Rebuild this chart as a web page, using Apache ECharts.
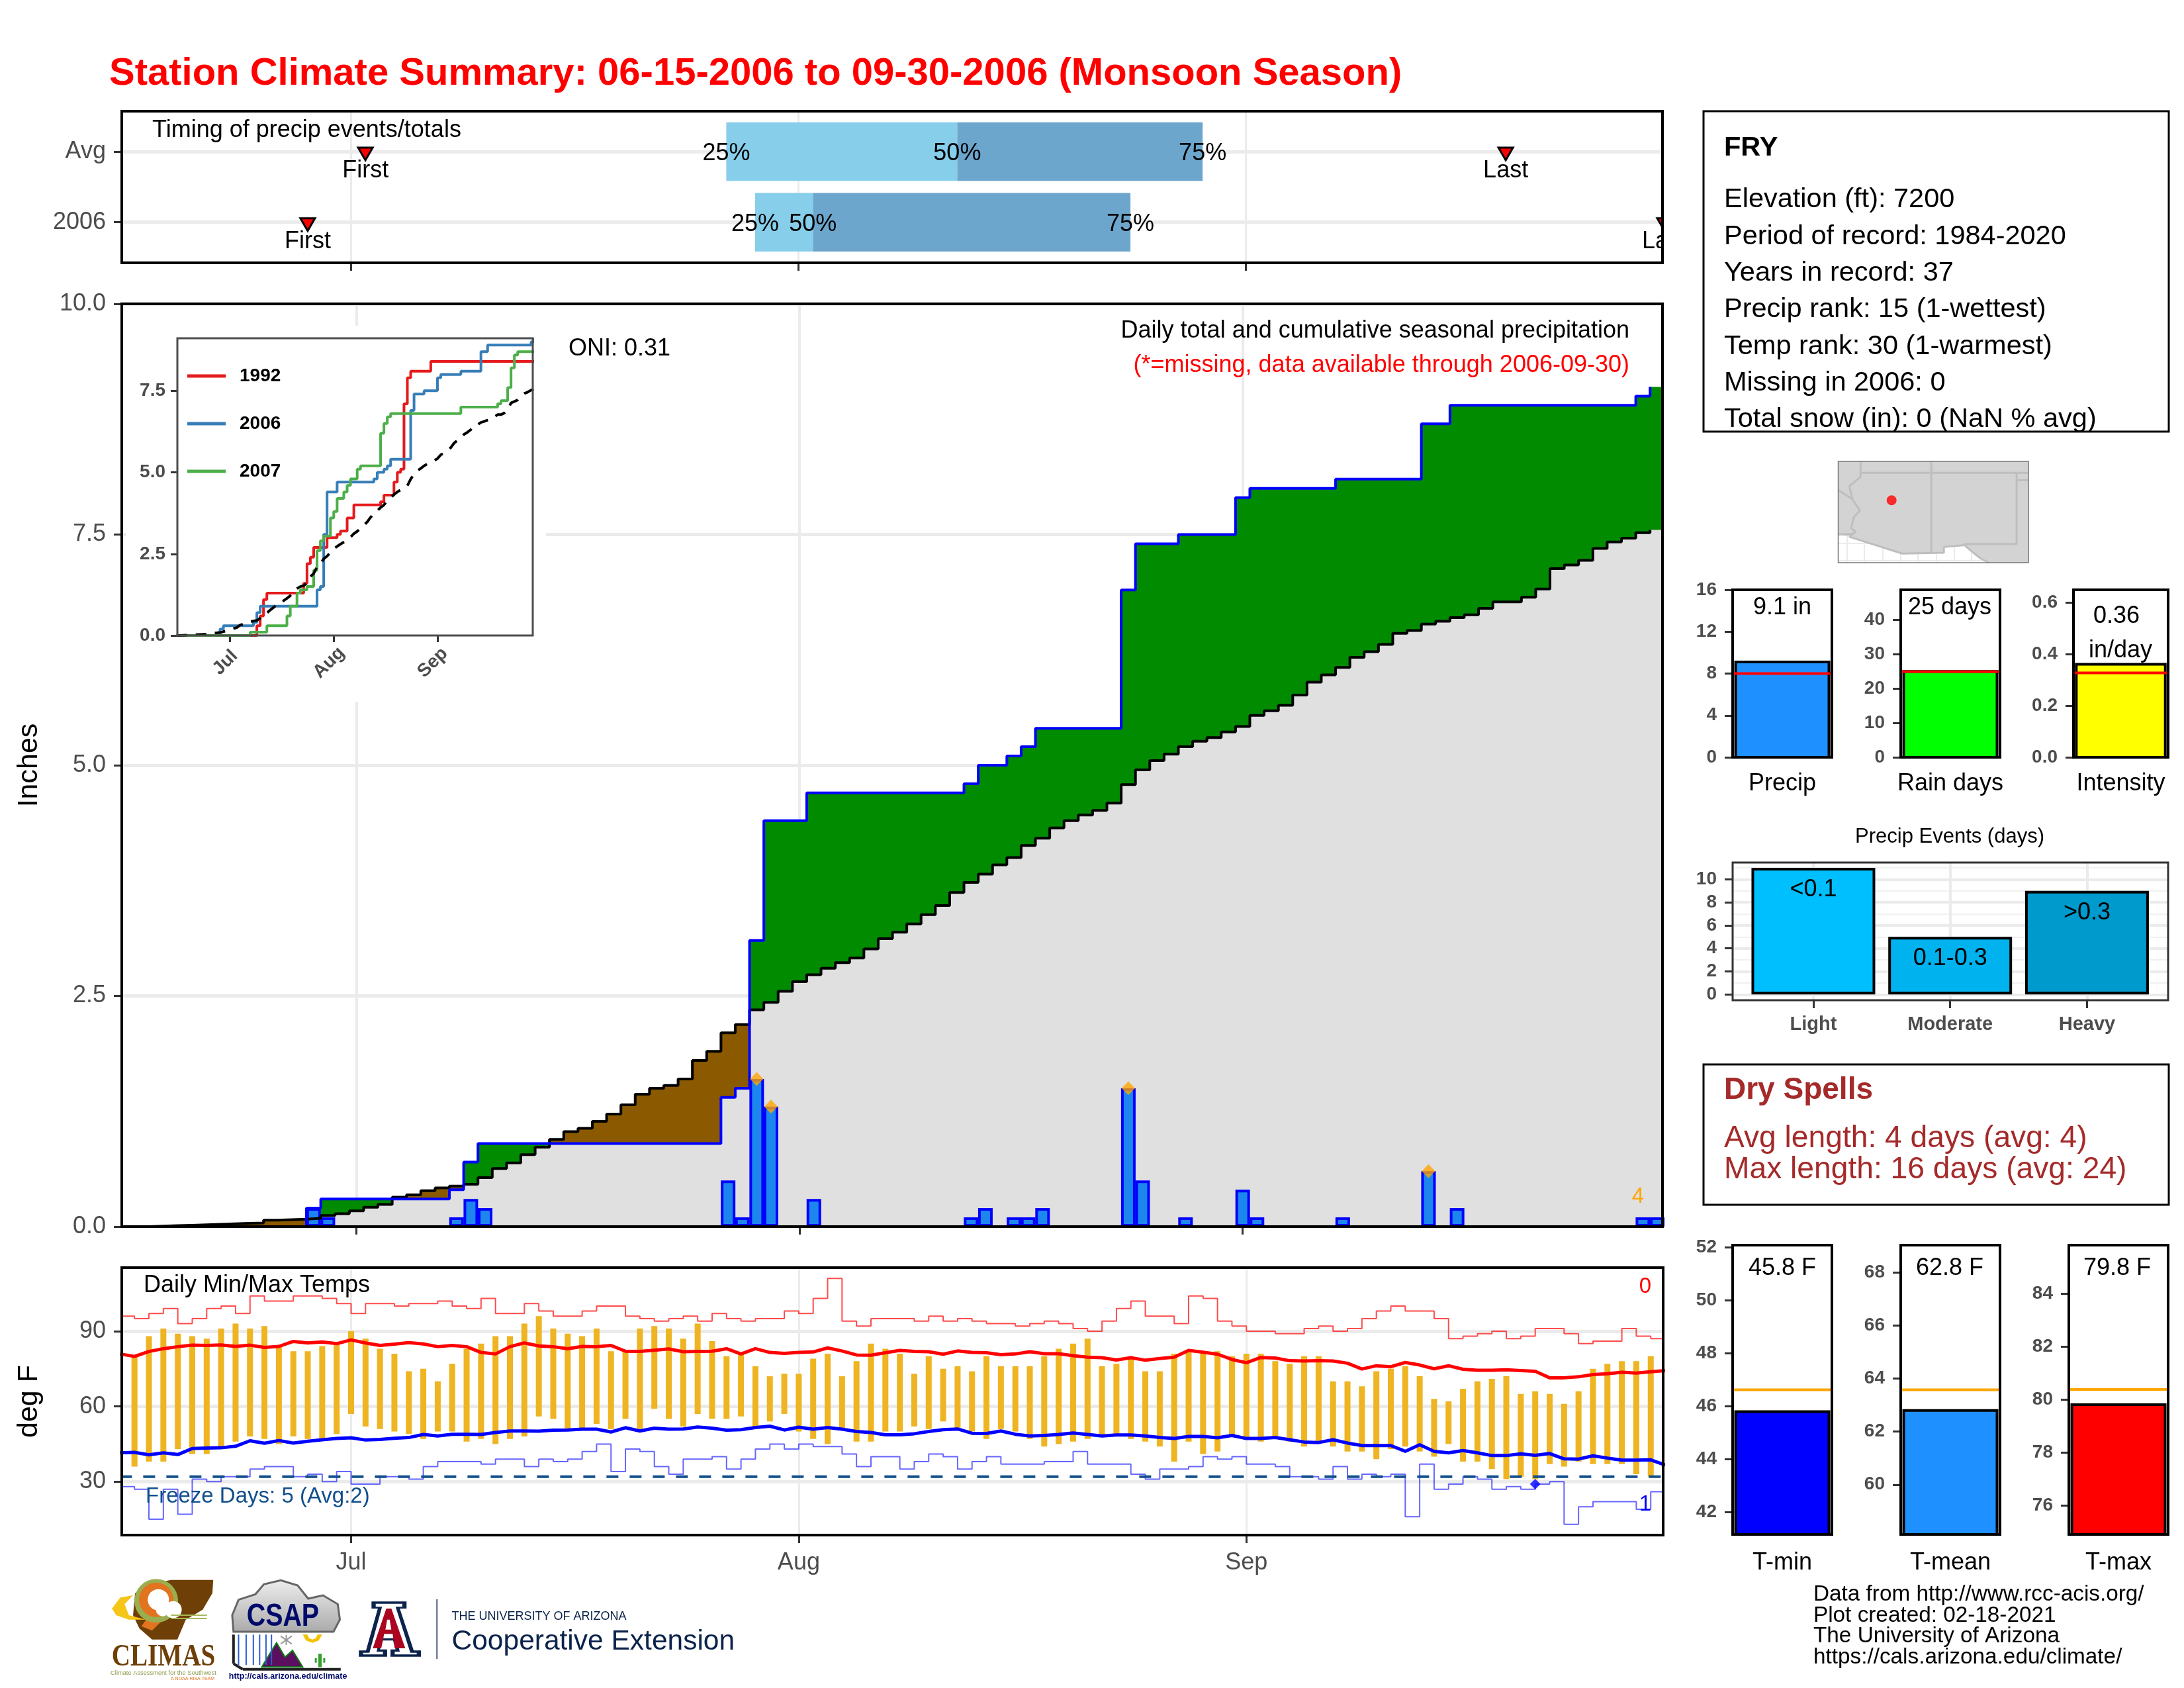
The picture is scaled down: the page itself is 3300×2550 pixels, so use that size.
<!DOCTYPE html>
<html>
<head>
<meta charset="utf-8">
<title>Station Climate Summary</title>
<script src="https://cdn.jsdelivr.net/npm/echarts@6/dist/echarts.min.js"></script>
<style>html,body{margin:0;padding:0;background:#fff}</style>
</head>
<body>
<div id="chart" style="width:3300px;height:2550px"></div>
<script>
// day numbers: 0 = 06-15, 16 = Jul 1, 47 = Aug 1, 78 = Sep 1, 107 = 09-30
var monthDays = [16, 47, 78];
var monthNames = ['Jul', 'Aug', 'Sep'];

// timing strip: first, 25%, 50%, 75%, last
var timingAvg = [17, 42, 58, 75, 96];
var timing2006 = [13, 44, 48, 70, 107];

// daily rain 2006
var rainDays = [13, 14, 23, 24, 25, 42, 43, 44, 45, 48, 59, 60, 62, 63, 64, 70, 71, 74, 78, 79, 85, 91, 93, 106, 107];
var rainAmounts = [0.2, 0.1, 0.1, 0.3, 0.2, 0.5, 0.1, 1.6, 1.3, 0.3, 0.1, 0.2, 0.1, 0.1, 0.2, 1.5, 0.5, 0.1, 0.4, 0.1, 0.1, 0.6, 0.2, 0.1, 0.1];
var recordDays = [44, 45, 70, 91];

// long term cumulative average, one per day
var avgPrecip = [0, 0, 0.005, 0.01, 0.015, 0.02, 0.025, 0.03, 0.035, 0.04, 0.07, 0.075, 0.08, 0.09,
	0.12, 0.14, 0.17, 0.21, 0.24, 0.32, 0.345, 0.39, 0.42, 0.44, 0.46, 0.53, 0.63, 0.69, 0.78, 0.86,
	0.945, 1.03, 1.065, 1.14, 1.22, 1.32, 1.435, 1.50, 1.53, 1.60, 1.80, 1.90, 2.10, 2.19, 2.35, 2.43,
	2.55, 2.655, 2.73, 2.80, 2.86, 2.91, 3.01, 3.12, 3.19, 3.28, 3.38, 3.48, 3.62, 3.73, 3.82, 3.92,
	4.00, 4.13, 4.21, 4.32, 4.40, 4.46, 4.51, 4.59, 4.79, 4.95, 5.05, 5.12, 5.20, 5.26, 5.30, 5.36,
	5.42, 5.54, 5.59, 5.65, 5.76, 5.90, 5.98, 6.06, 6.17, 6.23, 6.31, 6.43, 6.46, 6.53, 6.56, 6.60,
	6.63, 6.70, 6.77, 6.77, 6.82, 6.91, 7.13, 7.17, 7.22, 7.35, 7.42, 7.46, 7.52, 7.55];

// inset: cumulative totals of other years at the days they changed
var days1992 = [24, 25, 26, 27, 38, 39, 40, 41, 45, 48, 49, 51, 53, 61, 62, 65, 66, 67, 68, 69, 70, 76];
var totals1992 = [0.3, 0.6, 1.1, 1.3, 1.6, 2.2, 2.4, 2.7, 3.0, 3.1, 3.2, 3.6, 4.0, 4.1, 4.3, 4.7, 5.0, 5.1, 7.1, 7.9, 8.1, 8.4];
var days2007 = [22, 27, 33, 34, 36, 37, 39, 41, 42, 43, 44, 46, 47, 48, 50, 51, 52, 54, 55, 61, 62, 63, 64, 85, 96, 97, 99, 100, 101, 102];
var totals2007 = [0.1, 0.3, 0.6, 0.9, 1.3, 1.4, 1.5, 2.0, 2.6, 2.9, 3.05, 3.6, 3.8, 4.2, 4.4, 4.6, 4.8, 5.1, 5.2, 6.2, 6.5, 6.7, 6.8, 7.0, 7.1, 7.2, 7.6, 8.2, 8.6, 8.7];
var legendYears = ['1992', '2006', '2007'];

// daily temps, day 1 to 106
var tMax = [80, 88, 91, 89, 88, 87, 91, 93, 91, 92,
	84, 82, 82, 84, 85, 90, 87, 83, 81, 74,
	75, 70, 77, 83, 85, 88, 88, 93, 96, 91,
	89, 88, 91, 82, 82, 91, 92, 91, 87, 93,
	86, 80, 81, 76, 72, 73, 73, 79, 81, 72,
	78, 85, 83, 81, 73, 80, 75, 76, 74, 80,
	76, 76, 76, 80, 83, 85, 87, 76, 77, 79,
	74, 74, 81, 82, 81, 82, 80, 81, 81, 78,
	77, 80, 80, 70, 70, 68, 74, 75, 76, 72,
	63, 62, 67, 70, 71, 72, 65, 66, 65, 61,
	66, 75, 77, 78, 78, 80];
var tMin = [36, 38, 38, 43, 41, 41, 44, 46, 48, 47,
	45, 48, 47, 47, 49, 57, 52, 51, 50, 49,
	47, 50, 50, 46, 47, 45, 47, 48, 56, 55,
	51, 51, 53, 51, 55, 51, 59, 55, 52, 57,
	55, 55, 56, 52, 54, 57, 50, 47, 45, 51,
	46, 46, 50, 50, 52, 51, 54, 51, 50, 47,
	51, 50, 47, 44, 45, 46, 47, 48, 48, 47,
	46, 44, 38, 46, 41, 42, 48, 47, 46, 47,
	46, 44, 46, 44, 42, 42, 39, 43, 44, 42,
	40, 45, 38, 38, 35, 31, 32, 31, 37, 36,
	38, 37, 37, 37, 33, 32];

// record high / low thin steps, day 0 to 106
var recHigh = [96, 95, 97, 99, 93, 95, 99, 100, 97, 104,
	102, 102, 104, 104, 103, 101, 97, 101, 101, 100,
	101, 101, 102, 100, 99, 103, 97, 97, 101, 98,
	96, 96, 98, 100, 100, 96, 95, 94, 95, 96,
	94, 97, 95, 94, 95, 95, 98, 97, 103, 111,
	94, 92, 95, 95, 95, 94, 96, 94, 95, 94,
	93, 93, 92, 93, 94, 93, 91, 90, 94, 99,
	102, 96, 96, 93, 104, 103, 94, 92, 90, 90,
	89, 89, 91, 92, 90, 91, 95, 98, 100, 98,
	98, 95, 87, 88, 89, 90, 87, 88, 91, 91,
	89, 85, 86, 86, 91, 88, 87];
var recLow = [28, 27, 15, 27, 17, 31, 30, 32, 32, 35,
	36, 36, 32, 33, 30, 34, 29, 29, 32, 32,
	31, 36, 38, 38, 38, 37, 39, 39, 36, 39,
	38, 39, 42, 45, 34, 43, 42, 36, 33, 39,
	39, 40, 35, 39, 43, 45, 43, 45, 44, 44,
	41, 36, 40, 40, 35, 38, 41, 40, 35, 38,
	40, 37, 37, 37, 38, 38, 42, 37, 37, 37,
	33, 31, 35, 35, 36, 40, 39, 40, 37, 37,
	36, 32, 32, 31, 36, 31, 33, 32, 33, 16,
	37, 27, 29, 32, 31, 27, 28, 27, 29, 30,
	13, 20, 22, 22, 22, 19, 26];

// long term mean max / min, day 0 to 107
var avgHigh = [80.9, 79.9, 81.9, 83.0, 83.8, 84.4, 84.3, 84.5, 83.9, 84.4,
	83.5, 83.9, 85.9, 85.3, 85.7, 85.0, 86.5, 85.3, 84.3, 84.8,
	85.4, 84.9, 83.8, 84.3, 83.8, 81.5, 80.9, 83.8, 85.3, 84.1,
	83.8, 83.0, 83.9, 83.8, 84.3, 82.0, 81.9, 82.4, 82.9, 81.8,
	81.9, 82.0, 83.0, 80.9, 83.0, 81.5, 81.1, 81.5, 81.7, 83.3,
	82.1, 80.5, 80.4, 81.4, 82.3, 81.9, 81.8, 80.8, 82.1, 81.5,
	81.4, 80.6, 80.9, 81.8, 81.0, 81.0, 80.2, 79.6, 79.4, 78.5,
	79.4, 78.4, 79.1, 79.6, 82.3, 81.6, 80.8, 78.7, 77.4, 79.5,
	79.3, 78.2, 78.1, 78.2, 78.1, 77.2, 74.9, 76.2, 75.8, 77.5,
	76.5, 75.0, 76.2, 74.8, 74.4, 74.4, 74.6, 74.3, 74.0, 71.4,
	71.4, 71.8, 72.7, 73.0, 73.6, 73.3, 73.8, 74.3];
var avgLow = [41.5, 41.7, 40.7, 41.5, 40.8, 43.2, 43.4, 43.5, 44.1, 46.3,
	45.3, 46.4, 45.4, 46.1, 46.7, 47.2, 47.5, 46.6, 46.8, 47.3,
	47.6, 48.8, 48.2, 48.9, 48.9, 48.8, 49.6, 50.2, 50.2, 50.1,
	50.5, 50.6, 50.9, 50.9, 49.8, 51.5, 50.2, 51.3, 50.9, 51.0,
	51.8, 51.3, 50.5, 50.7, 51.6, 52.1, 50.6, 51.7, 50.9, 51.6,
	50.9, 50.0, 49.6, 48.7, 48.7, 49.1, 50.0, 50.7, 51.0, 49.3,
	49.2, 50.2, 48.9, 48.2, 48.4, 48.8, 49.4, 48.8, 48.2, 48.6,
	48.6, 48.2, 47.6, 47.2, 48.0, 48.0, 47.5, 48.4, 47.2, 47.2,
	47.6, 46.7, 45.8, 45.6, 46.7, 45.4, 44.4, 44.4, 44.4, 42.1,
	44.7, 42.1, 41.5, 42.4, 41.5, 40.4, 40.4, 41.1, 40.5, 41.2,
	39.1, 39.0, 40.3, 39.4, 38.6, 38.6, 38.7, 36.6];
var freezeLine = 32;
var recordLowDays = [98];
var recordLowTemps = [29];

// precip events bars
var eventNames = ['Light', 'Moderate', 'Heavy'];
var eventValues = [11, 5, 9];
var eventLabels = ['<0.1', '0.1-0.3', '>0.3'];
var eventFills = ['#00BFFF', '#00B2EE', '#009ACD'];

// locator map, lon/lat
var stationLon = -111.87;
var stationLat = 35.07;
var mapLand = [[-115.66, 37.8], [-102.16, 37.8], [-102.16, 30.69], [-104.98, 30.69], [-105.55, 30.98], [-106.23, 31.52],
	[-106.69, 31.92], [-108.16, 31.79], [-108.16, 31.39], [-111.12, 31.33], [-114.87, 32.51], [-115.66, 32.67]];
var mapBorders = [
	[[-114.07, 37.8], [-114.07, 36.73], [-114.87, 36.06], [-114.64, 35.13], [-114.12, 34.33], [-114.53, 33.93], [-114.75, 33.12], [-114.41, 32.86], [-114.87, 32.51]],
	[[-115.66, 35.8], [-114.64, 35.13]],
	[[-115.66, 32.67], [-114.53, 32.72]],
	[[-114.07, 37], [-102.16, 37]],
	[[-109.05, 37.8], [-109.05, 31.33]],
	[[-103, 37], [-103, 32], [-106.69, 32]],
	[[-103, 36.47], [-102.16, 36.47]],
	[[-114.87, 32.51], [-111.12, 31.33], [-108.16, 31.39], [-108.16, 31.79], [-106.69, 31.92], [-106.23, 31.52], [-105.55, 30.98], [-104.98, 30.69]]
];

var infoLines = ['Elevation (ft): 7200', 'Period of record: 1984-2020', 'Years in record: 37', 'Precip rank: 15 (1-wettest)',
	'Temp rank: 30 (1-warmest)', 'Missing in 2006: 0', 'Total snow (in): 0 (NaN % avg)'];
var creditLines = ['Data from http://www.rcc-acis.org/', 'Plot created: 02-18-2021', 'The University of Arizona', 'https://cals.arizona.edu/climate/'];

var FONT = '"Liberation Sans"';
var GRID = '#ebebeb';
var TICKC = '#333333';
var LABELC = '#4d4d4d';

var grids = [], xAxes = [], yAxes = [], series = [], graphics = [];

function text(x, y, str, size, color, opt) {
	opt = opt || {};
	graphics.push({
		type: 'text', z: 60, silent: true, x: x, y: y + 3, scaleX: opt.sx || 1,
		style: {
			x: 0, y: 0, text: str, fill: color || '#000',
			fontFamily: opt.family || FONT, fontSize: size, fontWeight: opt.weight || 'normal',
			align: opt.align || 'left', verticalAlign: 'middle'
		}
	});
}

function frame(b, color, width) {
	graphics.push({
		type: 'rect', z: 50, silent: true,
		shape: { x: b[0], y: b[1], width: b[2] - b[0], height: b[3] - b[1] },
		style: { fill: 'none', stroke: color || '#000', lineWidth: width || 4 }
	});
}

// one value axis; ticks sets ticks, labels and grid lines
function axis(gridIndex, kind, o) {
	var ax = {
		type: 'value', gridIndex: gridIndex, min: o.min, max: o.max, z: o.z || 0,
		axisLine: { show: false, onZero: false },
		axisTick: { show: !!o.tick, customValues: o.ticks, length: o.tickLen || 12, lineStyle: { color: TICKC, width: 3 } },
		axisLabel: {
			show: !!o.format, customValues: o.ticks, formatter: o.format, margin: o.margin || (kind === 'y' ? 24 : 8),
			color: o.labelColor || LABELC, fontFamily: FONT, fontSize: o.fontSize || 36, fontWeight: o.weight || 'normal',
			hideOverlap: false, showMinLabel: true, showMaxLabel: true,
			padding: kind === 'y' ? [10, 0, 0, 0] : 0
		},
		splitLine: { show: !!o.gridWidth, lineStyle: { color: o.gridColor || GRID, width: o.gridWidth || 0 } }
	};
	if (o.rotate) {
		ax.axisLabel.rotate = o.rotate;
		ax.axisLabel.align = 'center';
		ax.axisLabel.verticalAlign = 'middle';
		ax.axisLabel.padding = [0, 20, 0, 0];
	}
	if (o.name) {
		ax.name = o.name;
		ax.nameLocation = 'middle';
		ax.nameGap = o.nameGap;
		ax.nameTextStyle = { color: '#000', fontFamily: FONT, fontSize: 43 };
	}
	(kind === 'x' ? xAxes : yAxes).push(ax);
	return (kind === 'x' ? xAxes : yAxes).length - 1;
}

function panel(b, xo, yo) {
	grids.push({ left: b[0], top: b[1], width: b[2] - b[0], height: b[3] - b[1] });
	var g = grids.length - 1;
	return { x: axis(g, 'x', xo), y: axis(g, 'y', yo), grid: g };
}

function lineSeries(p, data, color, width, extra) {
	var s = {
		type: 'line', xAxisIndex: p.x, yAxisIndex: p.y, data: data, symbol: 'none', silent: true,
		lineStyle: { color: color, width: width }, itemStyle: { color: color }
	};
	for (var k in (extra || {})) {
		s[k] = extra[k];
	}
	series.push(s);
}

// centred step: each value spans day-0.5 to day+0.5
function midSteps(vals, dropLast) {
	var pts = [];
	for (var i = 0; i < vals.length; i++) {
		pts.push([i - 0.5, vals[i]]);
		if (!(dropLast && i === vals.length - 1)) {
			pts.push([i + 0.5, vals[i]]);
		}
	}
	return pts;
}

// forward step: each value spans day to day+1
function fwdSteps(vals) {
	var pts = [];
	for (var i = 0; i < vals.length; i++) {
		pts.push([i, vals[i]]);
		pts.push([i + 1, vals[i]]);
	}
	return pts;
}

function dailyTotals(days, totals) {
	var out = [], cur = 0, j = 0;
	for (var d = 0; d < avgPrecip.length; d++) {
		if (j < days.length && days[j] === d) {
			cur = totals[j];
			j++;
		}
		out.push(cur);
	}
	return out;
}

function monthLabel(v) {
	return monthNames[monthDays.indexOf(v)];
}

// ---- running totals for 2006
var cum2006 = [], runTotal = 0;
for (var d = 0; d < avgPrecip.length; d++) {
	var at = rainDays.indexOf(d);
	if (at >= 0) {
		runTotal = Math.round((runTotal + rainAmounts[at]) * 10) / 10;
	}
	cum2006.push(runTotal);
}
var lowerEdge = cum2006.map(function (v, i) { return Math.min(v, avgPrecip[i]); });

// ---- timing strip
var TBOX = [184, 168, 2512, 397];
var timing = panel(TBOX,
	{ min: 0.12, max: 106.86, ticks: monthDays, tick: true, gridWidth: 3 },
	{ min: 0.4255, max: 2.572, ticks: [1, 2], tick: true, gridWidth: 5, format: function (v) { return v === 2 ? 'Avg' : '2006'; } });
series.push({
	type: 'custom', xAxisIndex: timing.x, yAxisIndex: timing.y, clip: true, silent: true,
	encode: { x: [1, 2, 3, 4, 5], y: 0 },
	data: [[2].concat(timingAvg), [1].concat(timing2006)],
	renderItem: function (params, api) {
		var row = api.value(0);
		function pt(v, dy) { return api.coord([v, row + (dy || 0)]); }
		function tx(v, str, offY) {
			var p = pt(v);
			return {
				type: 'text',
				style: { x: p[0], y: p[1] + offY + 3, text: str, fill: '#000', fontFamily: FONT, fontSize: 36, align: 'center', verticalAlign: 'middle' }
			};
		}
		function box(a, b, fill) {
			var p0 = pt(a, 0.415), p1 = pt(b, -0.415);
			return { type: 'rect', shape: { x: p0[0], y: p0[1], width: p1[0] - p0[0], height: p1[1] - p0[1] }, style: { fill: fill } };
		}
		function mark(v) {
			var p = pt(v);
			return {
				type: 'polygon',
				shape: { points: [[p[0] - 11, p[1] - 6], [p[0] + 11, p[1] - 6], [p[0], p[1] + 13]] },
				style: { fill: '#ff0000', stroke: '#000', lineWidth: 3 }
			};
		}
		return {
			type: 'group',
			children: [
				box(api.value(2), api.value(3), '#87CEEB'),
				box(api.value(3), api.value(4), '#6CA6CD'),
				tx(api.value(2), '25%', 0), tx(api.value(3), '50%', 0), tx(api.value(4), '75%', 0),
				mark(api.value(1)), mark(api.value(5)),
				tx(api.value(1), 'First', 26), tx(api.value(5), 'Last', 26)
			]
		};
	}
});
frame(TBOX);
text(230, 194, 'Timing of precip events/totals', 36);

// ---- main precip panel
var MBOX = [184, 459, 2512, 1853];
var main = panel(MBOX,
	{ min: -0.42, max: 107.37, ticks: monthDays, tick: true, gridWidth: 4 },
	{ min: 0, max: 10, ticks: [0, 2.5, 5, 7.5, 10], tick: true, gridWidth: 5, name: 'Inches', nameGap: 118, format: function (v) { return v.toFixed(1); } });
lineSeries(main, midSteps(cum2006), '#008B00', 0, { areaStyle: { color: '#008B00', opacity: 1 } });
lineSeries(main, midSteps(avgPrecip), '#8B5A00', 0, { areaStyle: { color: '#8B5A00', opacity: 1 } });
lineSeries(main, midSteps(lowerEdge), '#E0E0E0', 0, { areaStyle: { color: '#E0E0E0', opacity: 1 } });
lineSeries(main, midSteps(avgPrecip, true), '#000000', 4);
lineSeries(main, midSteps(cum2006, true), '#0000FF', 4);
// the filled areas paint over same-z marks, so the bars sit one level up
series.push({
	type: 'bar', xAxisIndex: main.x, yAxisIndex: main.y, silent: true, barWidth: 22, z: 3,
	itemStyle: { color: '#1C86EE', borderColor: '#0000FF', borderWidth: 4 },
	data: rainDays.map(function (day, i) { return [day, rainAmounts[i]]; })
});
series.push({
	type: 'scatter', xAxisIndex: main.x, yAxisIndex: main.y, silent: true, symbol: 'diamond', symbolSize: [20, 21], z: 4,
	itemStyle: { color: '#FFA500' },
	data: recordDays.map(function (day) { return [day, rainAmounts[rainDays.indexOf(day)]]; })
});
frame(MBOX);
text(859, 524, 'ONI: 0.31', 36);
text(2462, 497, 'Daily total and cumulative seasonal precipitation', 36, '#000', { align: 'right' });
text(2462, 549, '(*=missing, data available through 2006-09-30)', 36, '#ff0000', { align: 'right' });
text(2475, 1805, '4', 33, '#FFA500', { align: 'center' });

// ---- inset: white patch hides the main grid lines behind it
graphics.push({ type: 'rect', z: 1, silent: true, shape: { x: 190, y: 492, width: 635, height: 568 }, style: { fill: '#fff' } });
var IBOX = [268, 511, 805, 960];
var inset = panel(IBOX,
	{ min: 0.24, max: 106.5, ticks: monthDays, tick: true, tickLen: 10, z: 3, format: monthLabel, fontSize: 28, weight: 'bold', rotate: 45, margin: 34 },
	{ min: 0, max: 9.11, ticks: [0, 2.5, 5, 7.5], tick: true, tickLen: 10, z: 3, format: function (v) { return v.toFixed(1); }, fontSize: 28, weight: 'bold', margin: 18 });
lineSeries(inset, fwdSteps(dailyTotals(days1992, totals1992)), '#E41A1C', 4, { name: '1992', z: 5 });
lineSeries(inset, fwdSteps(cum2006), '#377EB8', 4, { name: '2006', z: 5 });
lineSeries(inset, fwdSteps(dailyTotals(days2007, totals2007)), '#4DAF4A', 4, { name: '2007', z: 5 });
lineSeries(inset, avgPrecip.map(function (v, i) { return [i, v]; }), '#000000', 4, { z: 5, lineStyle: { color: '#000', width: 4, type: [16, 13] } });
frame(IBOX, '#4d4d4d', 3);

// ---- temperature panel
var TEMPBOX = [184, 1915, 2513, 2319];
var temp = panel(TEMPBOX,
	{ min: 0.12, max: 106.86, ticks: monthDays, tick: true, gridWidth: 3, format: monthLabel, margin: 24 },
	{ min: 8.7, max: 115.3, ticks: [30, 60, 90], tick: true, gridWidth: 5, name: 'deg F', nameGap: 118, format: function (v) { return String(v); } });
series.push({
	type: 'custom', xAxisIndex: temp.x, yAxisIndex: temp.y, silent: true, clip: true,
	encode: { x: 0, y: [1, 2] },
	data: tMax.map(function (v, i) { return [i + 1, tMin[i], v]; }),
	renderItem: function (params, api) {
		var lo = api.coord([api.value(0), api.value(1)]);
		var hi = api.coord([api.value(0), api.value(2)]);
		return { type: 'rect', shape: { x: lo[0] - 4.5, y: hi[1], width: 9, height: lo[1] - hi[1] }, style: { fill: '#EEB422' } };
	}
});
lineSeries(temp, fwdSteps(recHigh), 'rgba(255,0,0,0.7)', 2);
lineSeries(temp, fwdSteps(recLow), 'rgba(0,0,255,0.6)', 2);
lineSeries(temp, avgHigh.map(function (v, i) { return [i, v]; }), '#FF0000', 5);
lineSeries(temp, avgLow.map(function (v, i) { return [i, v]; }), '#0000FF', 5);
lineSeries(temp, [[0, freezeLine], [107, freezeLine]], '#104E8B', 4, { lineStyle: { color: '#104E8B', width: 4, type: [18, 17] } });
series.push({
	type: 'scatter', xAxisIndex: temp.x, yAxisIndex: temp.y, silent: true, symbol: 'diamond', symbolSize: 16,
	itemStyle: { color: '#0000FF' },
	data: recordLowDays.map(function (day, i) { return [day, recordLowTemps[i]]; })
});
frame(TEMPBOX);
text(217, 1939, 'Daily Min/Max Temps', 36);
text(220, 2258, 'Freeze Days: 5 (Avg:2)', 33, '#104E8B');
text(2486, 1941, '0', 33, '#ff0000', { align: 'center' });
text(2486, 2270, '1', 33, '#0000FF', { align: 'center' });

// ---- info boxes
frame([2574, 168, 3277, 652], '#000', 3);
text(2605, 221, 'FRY', 41.5, '#000', { weight: 'bold' });
infoLines.forEach(function (line, i) {
	text(2605, 299 + i * 55.3, line, 41.5);
});
frame([2574, 1608, 3277, 1820], '#000', 3);
text(2605, 1644, 'Dry Spells', 46, '#A52A2A', { weight: 'bold' });
text(2605, 1717, 'Avg length: 4 days (avg: 4)', 46.2, '#A52A2A');
text(2605, 1764, 'Max length: 16 days (avg: 24)', 46.2, '#A52A2A');

// ---- locator map
var MAPBOX = [2777.5, 697, 3065, 850];
var locator = panel(MAPBOX,
	{ min: -115.66, max: -102.16, ticks: [-115.05, -113.8, -112.5, -111.25, -110, -108.7, -107.45, -106.2], gridWidth: 2 },
	{ min: 30.69, max: 37.8, ticks: [30.85, 32.05], gridWidth: 2 });
series.push({
	type: 'custom', xAxisIndex: locator.x, yAxisIndex: locator.y, silent: true, data: [[0, 0]],
	renderItem: function (params, api) {
		return { type: 'polygon', shape: { points: mapLand.map(function (p) { return api.coord(p); }) }, style: { fill: '#D3D3D3' } };
	}
});
mapBorders.forEach(function (line) {
	lineSeries(locator, line, '#BEBEBE', 3, { clip: true });
});
series.push({
	type: 'scatter', xAxisIndex: locator.x, yAxisIndex: locator.y, silent: true, symbolSize: 15,
	itemStyle: { color: '#FF0000' }, data: [[stationLon, stationLat]]
});
frame(MAPBOX, '#777777', 1.5);

// ---- small summary bars
function summaryBar(b, name, yMin, yMax, ticks, value, ref, fill, refColor, refWidth, labelMargin) {
	var p = panel(b,
		{ min: 0, max: 1, ticks: [0.5], format: function () { return name; }, labelColor: '#000', margin: labelMargin },
		{ min: yMin, max: yMax, ticks: ticks, tick: true, format: function (v) { return yMax < 1 ? v.toFixed(1) : String(v); }, fontSize: 28, weight: 'bold', margin: 24 });
	series.push({
		type: 'custom', xAxisIndex: p.x, yAxisIndex: p.y, silent: true, data: [[value]],
		renderItem: function (params, api) {
			var a = api.coord([0.03, api.value(0)]), c = api.coord([0.97, yMin]);
			return { type: 'rect', shape: { x: a[0], y: a[1], width: c[0] - a[0], height: c[1] - a[1] }, style: { fill: fill, stroke: '#000', lineWidth: 4 } };
		}
	});
	lineSeries(p, [[0, ref], [1, ref]], refColor, refWidth);
	frame(b);
}
summaryBar([2618, 891, 2768, 1144], 'Precip', 0, 16, [0, 4, 8, 12, 16], 9.1, 8, '#1E90FF', '#FF0000', 4, 22);
summaryBar([2872, 891, 3022, 1144], 'Rain days', 0, 48.75, [0, 10, 20, 30, 40], 25, 24.9, '#00FF00', '#FF0000', 4, 22);
summaryBar([3133, 891, 3276, 1144], 'Intensity', 0, 0.6485, [0, 0.2, 0.4, 0.6], 0.36, 0.327, '#FFFF00', '#FF0000', 4, 22);
summaryBar([2618, 1881, 2768, 2318], 'T-min', 41.17, 52.07, [42, 44, 46, 48, 50, 52], 45.8, 46.62, '#0000FF', '#FFA500', 4, 25);
summaryBar([2872, 1881, 3022, 2318], 'T-mean', 58.12, 69.04, [60, 62, 64, 66, 68], 62.8, 63.58, '#1E90FF', '#FFA500', 4, 25);
summaryBar([3126, 1881, 3276, 2318], 'T-max', 74.9, 85.82, [76, 78, 80, 82, 84], 79.8, 80.37, '#FF0000', '#FFA500', 4, 25);
text(2693, 915, '9.1 in', 36, '#000', { align: 'center' });
text(2946, 915, '25 days', 36, '#000', { align: 'center' });
text(3198, 928, '0.36', 36, '#000', { align: 'center' });
text(3204, 980, 'in/day', 36, '#000', { align: 'center' });
text(2693, 1913, '45.8 F', 36, '#000', { align: 'center' });
text(2946, 1913, '62.8 F', 36, '#000', { align: 'center' });
text(3199, 1913, '79.8 F', 36, '#000', { align: 'center' });

// ---- precip events
var EBOX = [2618, 1303, 3276, 1511];
text(2946, 1261, 'Precip Events (days)', 31, '#000', { align: 'center' });
var events = panel(EBOX,
	{ min: 0.41, max: 3.593, ticks: [1, 2, 3], tick: true, gridWidth: 4, format: function (v) { return eventNames[v - 1]; }, fontSize: 29, weight: 'bold', margin: 22 },
	{ min: -0.5, max: 11.46, ticks: [0, 2, 4, 6, 8, 10], tick: true, gridWidth: 4, format: function (v) { return String(v); }, fontSize: 28, weight: 'bold', margin: 24 });
yAxes.push({
	type: 'value', gridIndex: events.grid, min: -0.5, max: 11.46,
	axisLine: { show: false, onZero: false }, axisLabel: { show: false }, axisTick: { show: false, customValues: [1, 3, 5, 7, 9, 11] },
	splitLine: { show: true, lineStyle: { color: '#f0f0f0', width: 2 } }
});
series.push({
	type: 'bar', xAxisIndex: events.x, yAxisIndex: events.y, silent: true, barWidth: 187,
	data: eventValues.map(function (v, i) {
		return {
			value: [i + 1, v],
			itemStyle: { color: eventFills[i], borderColor: '#000', borderWidth: 4 },
			label: { show: true, position: 'insideTop', distance: 15, formatter: eventLabels[i], color: '#000', fontFamily: FONT, fontSize: 36 }
		};
	})
});
frame(EBOX, '#333333', 3);

// ---- credits
creditLines.forEach(function (line, i) {
	text(2740, 2406 + i * 31.5, line, 33.3);
});

// ---- logo artwork, drawn from rough outlines (image space of the original footer)
function lx(x) { return 150 + x / 1.568; }
function ly(y) { return 2350 + y / 3; }
function poly(pts, fill, stroke, w) {
	graphics.push({
		type: 'polygon', z: 40, silent: true,
		shape: { points: pts.map(function (p) { return [lx(p[0]), ly(p[1])]; }) },
		style: { fill: fill, stroke: stroke || 'none', lineWidth: w || 0 }
	});
}
function seg(x1, y1, x2, y2, color, w) {
	graphics.push({
		type: 'line', z: 41, silent: true,
		shape: { x1: lx(x1), y1: ly(y1), x2: lx(x2), y2: ly(y2) },
		style: { stroke: color, lineWidth: w }
	});
}
function dot(x, y, r, fill) {
	graphics.push({ type: 'circle', z: 41, silent: true, shape: { cx: lx(x), cy: ly(y), r: r }, style: { fill: fill } });
}
// CLIMAS
poly([[170, 110], [270, 110], [268, 170], [245, 245], [205, 290], [185, 380], [125, 380], [95, 330], [80, 270], [85, 170], [120, 130]], '#6E3F06');
dot(135, 205, 33, '#9AAE4F');
dot(135, 200, 26, '#E2731F');
dot(140, 200, 16, '#ffffff');
dot(175, 245, 13, '#ffffff');
dot(150, 245, 10, '#ffffff');
poly([[120, 265], [165, 265], [125, 340], [100, 320]], '#E2731F');
poly([[30, 240], [50, 190], [80, 180], [60, 220], [70, 270], [110, 290], [70, 290], [40, 270]], '#F5C518');
seg(170, 270, 255, 270, '#A7B85A', 2);
seg(170, 285, 255, 285, '#A7B85A', 2);
text(lx(152), ly(452), 'CLIMAS', 46, '#6E3F06', { family: '"Liberation Serif"', weight: 'bold', align: 'center', sx: 0.85 });
text(lx(152), ly(524), 'Climate Assessment for the Southwest', 9.3, '#8A9A4A', { align: 'center' });
text(lx(273), ly(549), 'A NOAA RISA TEAM', 7, '#E2731F', { align: 'right' });
// CSAP
graphics.push({
	type: 'polygon', z: 40, silent: true,
	shape: { points: [[318, 345], [315, 270], [330, 200], [370, 175], [390, 130], [430, 112], [470, 135], [495, 195], [530, 180], [565, 220], [570, 290], [555, 345]].map(function (p) { return [lx(p[0]), ly(p[1])]; }) },
	style: {
		stroke: '#666666', lineWidth: 3,
		fill: { type: 'linear', x: 0, y: 0, x2: 0, y2: 1, colorStops: [{ offset: 0, color: '#eeeeee' }, { offset: 1, color: '#aaaaaa' }] }
	}
});
text(lx(435), ly(269), 'CSAP', 48, '#000A6B', { weight: 'bold', align: 'center', sx: 0.82 });
[330, 348, 365, 380, 395, 408].forEach(function (x) { seg(x, 358, x, 495, '#2A5BD7', 2); });
seg(318, 358, 318, 490, '#222222', 4);
seg(318, 490, 340, 515, '#222222', 4);
seg(340, 515, 572, 515, '#222222', 4);
poly([[385, 505], [420, 395], [440, 460], [458, 430], [482, 505]], '#5B0F5E', '#0A7D10', 2);
seg(523, 445, 523, 505, '#33A02C', 5);
seg(513, 465, 513, 485, '#33A02C', 3);
seg(533, 465, 533, 485, '#33A02C', 3);
seg(430, 365, 456, 400, '#999999', 2);
seg(456, 365, 430, 400, '#999999', 2);
seg(443, 360, 443, 405, '#999999', 2);
poly([[482, 358], [528, 358], [520, 385], [505, 395], [490, 385]], '#F2C200');
poly([[492, 355], [518, 355], [513, 374], [505, 380], [497, 374]], '#ffffff');
text(lx(447), ly(539), 'http://cals.arizona.edu/climate', 12.5, '#000A6B', { weight: 'bold', align: 'center' });
// University of Arizona
poly([[645, 208], [728, 208], [728, 240], [712, 240], [745, 430], [762, 430], [762, 458], [690, 458], [690, 425], [702, 425], [696, 385], [672, 385], [665, 425], [682, 425], [682, 458], [615, 458], [615, 430], [632, 430], [660, 240], [645, 240]], '#0C234B');
poly([[655, 218], [718, 218], [718, 232], [702, 232], [737, 440], [752, 440], [752, 448], [700, 448], [700, 436], [712, 436], [705, 375], [664, 375], [657, 436], [672, 436], [672, 448], [625, 448], [625, 440], [640, 440], [670, 232], [655, 232]], '#ffffff');
poly([[680, 240], [692, 240], [725, 420], [700, 420], [695, 355], [675, 355], [668, 420], [648, 420]], '#AB0520');
poly([[682, 290], [688, 290], [692, 335], [678, 335]], '#ffffff');
seg(800, 198, 800, 468, '#0C234B', 1.5);
text(lx(835), ly(267), 'THE UNIVERSITY OF ARIZONA', 18, '#0C234B');
text(lx(835), ly(382), 'Cooperative Extension', 42.5, '#0C234B');

var chart = echarts.init(document.getElementById('chart'));
chart.setOption({
	animation: false,
	backgroundColor: '#ffffff',
	textStyle: { fontFamily: FONT },
	title: {
		text: 'Station Climate Summary: 06-15-2006 to 09-30-2006 (Monsoon Season)',
		left: 160, top: 78,
		textStyle: { color: '#ff0000', fontFamily: FONT, fontWeight: 'bold', fontSize: 58 }
	},
	legend: {
		data: legendYears, orient: 'vertical', left: 278, top: 549, selectedMode: false,
		icon: 'rect', itemWidth: 58, itemHeight: 5, itemGap: 44,
		itemStyle: { borderWidth: 0 },
		textStyle: { color: '#000', fontFamily: FONT, fontWeight: 'bold', fontSize: 28, padding: [0, 0, 0, 16] }
	},
	grid: grids,
	xAxis: xAxes,
	yAxis: yAxes,
	series: series,
	graphic: { elements: graphics }
});
</script>
</body>
</html>
